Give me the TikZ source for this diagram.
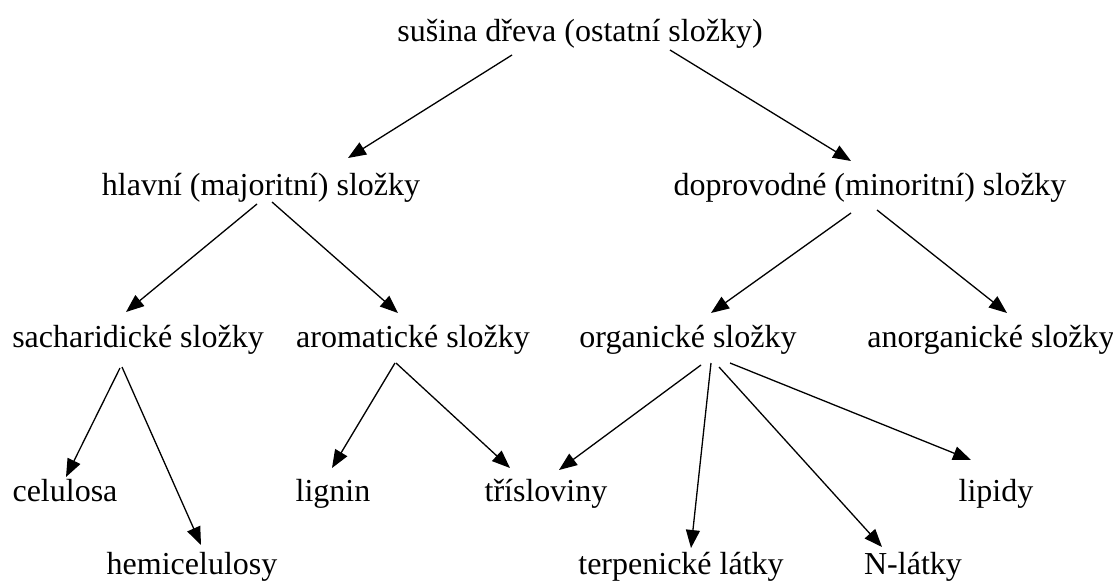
\documentclass[tikz,border=0pt]{standalone}
\usepackage{fontspec}
\setmainfont{Liberation Serif}
\usetikzlibrary{arrows.meta,calc}
\tikzset{
  lbl/.style={anchor=base, inner sep=0pt},
  arr/.style={-{Triangle[length=9pt,width=7pt]}, line width=0.65pt}
}
\begin{document}
\begin{tikzpicture}[x=0.5pt,y=-0.5pt,font=\fontsize{16}{19}\selectfont]
\useasboundingbox (0,0) rectangle (1113,583);
% rows
\node[lbl] (susina) at (580,42) {sušina dřeva (ostatní složky)};
\node[lbl] (hlavni) at (261,195) {hlavní (majoritní) složky};
\node[lbl] (doprov) at (870,195) {doprovodné (minoritní) složky};
\node[lbl] (sachar) at (138,347) {sacharidické složky};
\node[lbl] (aromat) at (413,347) {aromatické složky};
\node[lbl] (organ) at (688,347) {organické složky};
\node[lbl] (anorgan) at (991,347) {anorganické složky};
\node[lbl] (celul) at (65,501) {celulosa};
\node[lbl] (lignin) at (333,501) {lignin};
\node[lbl] (trisl) at (546,501) {třísloviny};
\node[lbl] (lipidy) at (996,501) {lipidy};
\node[lbl] (hemi) at (192,574) {hemicelulosy};
\node[lbl] (terpen) at (681,574) {terpenické látky};
\node[lbl] (nlatky) at (913,574) {N-látky};
% arrows
\draw[arr] ($(susina.base)+(-68,13)$) -- ($(hlavni.base)+(87,-37)$);
\draw[arr] ($(susina.base)+(90,8)$) -- ($(doprov.base)+(-19,-34)$);
\draw[arr] ($(hlavni.base)+(-4,9)$) -- ($(sachar.base)+(-12,-35)$);
\draw[arr] ($(hlavni.base)+(11,7)$) -- ($(aromat.base)+(-15,-34)$);
\draw[arr] ($(doprov.base)+(-19,18)$) -- ($(organ.base)+(23,-34)$);
\draw[arr] ($(doprov.base)+(7,15)$) -- ($(anorgan.base)+(16,-34)$);
\draw[arr] ($(sachar.base)+(-18,21)$) -- ($(celul.base)+(1,-24)$);
\draw[arr] ($(sachar.base)+(-16,20)$) -- ($(hemi.base)+(9,-29)$);
\draw[arr] ($(aromat.base)+(-18,16)$) -- ($(lignin.base)+(-1,-33)$);
\draw[arr] ($(aromat.base)+(-17,16)$) -- ($(trisl.base)+(-36,-33)$);
\draw[arr] ($(organ.base)+(13,18)$) -- ($(trisl.base)+(13,-31)$);
\draw[arr] ($(organ.base)+(23,16)$) -- ($(terpen.base)+(10,-26)$);
\draw[arr] ($(organ.base)+(31,20)$) -- ($(nlatky.base)+(-31,-27)$);
\draw[arr] ($(organ.base)+(42,16)$) -- ($(lipidy.base)+(-25,-41)$);
\end{tikzpicture}
\end{document}
